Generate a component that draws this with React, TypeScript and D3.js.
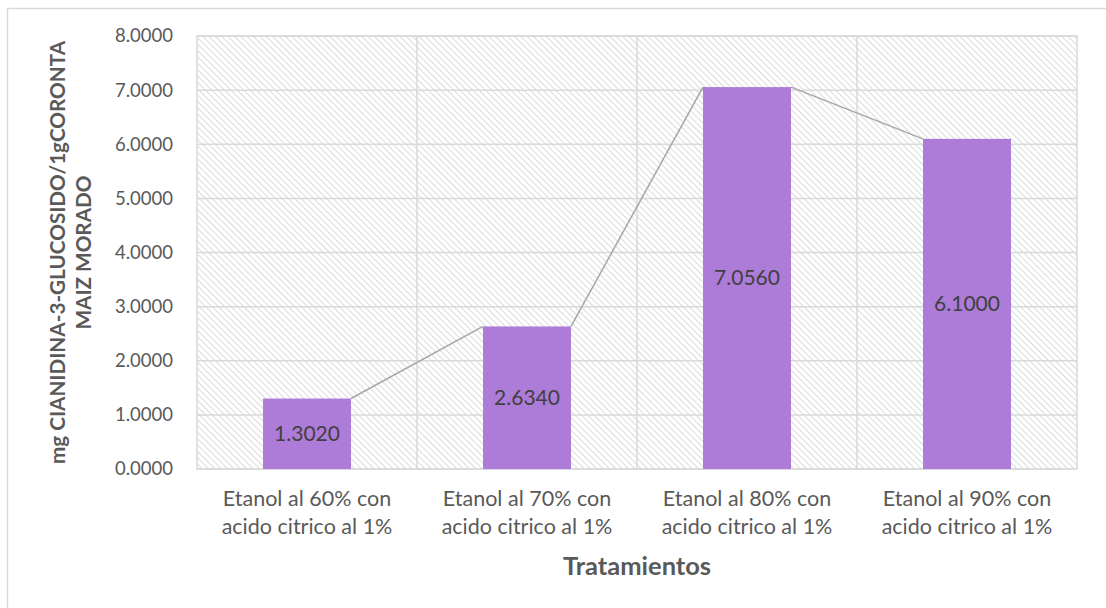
import React from "react";
import * as d3 from "d3";

const categories = [
  ["Etanol al 60% con", "acido citrico al 1%"],
  ["Etanol al 70% con", "acido citrico al 1%"],
  ["Etanol al 80% con", "acido citrico al 1%"],
  ["Etanol al 90% con", "acido citrico al 1%"],
];
const values = [1.302, 2.634, 7.056, 6.1];
const yTicks = [0, 1, 2, 3, 4, 5, 6, 7, 8];
const yTitle = ["mg CIANIDINA-3-GLUCOSIDO/1gCORONTA", "MAIZ MORADO"];
const xTitle = "Tratamientos";

const W = 1106;
const H = 608;
const plot = { left: 197, right: 1077, top: 36, bottom: 469 };
const FONT = "Lato, 'Open Sans', 'Liberation Sans', sans-serif";

export default function App() {
  const x = d3
    .scaleBand<number>()
    .domain(categories.map((_, i) => i))
    .range([plot.left, plot.right])
    .paddingInner(0.6)
    .paddingOuter(0.3);
  const band = d3
    .scaleBand<number>()
    .domain(categories.map((_, i) => i))
    .range([plot.left, plot.right]);
  const y = d3.scaleLinear().domain([0, 8]).range([plot.bottom, plot.top]);

  const seriesSegs = values.slice(0, -1).map((v, i) => ({
    x1: (x(i) as number) + x.bandwidth(),
    y1: y(v),
    x2: x(i + 1) as number,
    y2: y(values[i + 1]),
  }));

  return (
    <svg
      width={W}
      height={H}
      style={{ position: "absolute", left: 0, top: 0, background: "#fff" }}
    >
      <defs>
        <pattern
          id="hatch"
          patternUnits="userSpaceOnUse"
          width={4.5}
          height={4.5}
          patternTransform="rotate(-45)"
        >
          <rect width={4.5} height={4.5} fill="#fff" />
          <line x1={0} y1={0} x2={0} y2={4.5} stroke="#dadada" strokeWidth={2} />
        </pattern>
      </defs>
      <rect x={7.5} y={8.5} width={W} height={H} fill="#fff" stroke="#d9d9d9" strokeWidth={1.5} />
      <rect
        x={plot.left}
        y={plot.top}
        width={plot.right - plot.left}
        height={plot.bottom - plot.top}
        fill="url(#hatch)"
        stroke="#d9d9d9"
        strokeWidth={1.5}
      />
      {yTicks.map((t) => (
        <g key={t}>
          <line
            x1={plot.left}
            x2={plot.right}
            y1={y(t)}
            y2={y(t)}
            stroke="#d9d9d9"
            strokeWidth={1.5}
          />
          <text
            x={173}
            y={y(t)}
            dy="0.35em"
            textAnchor="end"
            fontFamily={FONT}
            fontSize={18.5}
            fill="#595959"
          >
            {t.toFixed(4)}
          </text>
        </g>
      ))}
      {categories.map((_, i) =>
        i > 0 ? (
          <line
            key={"v" + i}
            x1={band(i) as number}
            x2={band(i) as number}
            y1={plot.top}
            y2={plot.bottom}
            stroke="#d9d9d9"
            strokeWidth={1.5}
          />
        ) : null
      )}
      {seriesSegs.map((s, i) => (
        <line
          key={"s" + i}
          x1={s.x1}
          y1={s.y1}
          x2={s.x2}
          y2={s.y2}
          stroke="#a6a6a6"
          strokeWidth={1.5}
        />
      ))}
      {values.map((v, i) => (
        <g key={"b" + i}>
          <rect
            x={x(i)}
            y={y(v)}
            width={x.bandwidth()}
            height={y(0) - y(v)}
            fill="#ad7bd8"
          />
          <text
            x={(x(i) as number) + x.bandwidth() / 2}
            y={(y(v) + y(0)) / 2}
            dy="0.35em"
            textAnchor="middle"
            fontFamily={FONT}
            fontSize={21}
            fill="#404040"
          >
            {v.toFixed(4)}
          </text>
        </g>
      ))}
      {categories.map((lines, i) => (
        <text
          key={"c" + i}
          x={(band(i) as number) + band.bandwidth() / 2}
          y={498}
          textAnchor="middle"
          fontFamily={FONT}
          fontSize={21.5}
          fill="#595959"
        >
          {lines.map((l, j) => (
            <tspan key={j} x={(band(i) as number) + band.bandwidth() / 2} dy={j === 0 ? "0.35em" : 28}>
              {l}
            </tspan>
          ))}
        </text>
      ))}
      <text
        x={(plot.left + plot.right) / 2}
        y={566}
        dy="0.35em"
        textAnchor="middle"
        fontFamily={FONT}
        fontSize={25.5}
        fontWeight="bold"
        fill="#595959"
      >
        {xTitle}
      </text>
      <g transform={`translate(0, ${(plot.top + plot.bottom) / 2}) rotate(-90)`}>
        {yTitle.map((l, j) => (
          <text
            key={j}
            x={0}
            y={58 + j * 26}
            dy="0.35em"
            textAnchor="middle"
            fontFamily={FONT}
            fontSize={20.7}
            fontWeight="bold"
            fill="#595959"
          >
            {l}
          </text>
        ))}
      </g>
    </svg>
  );
}
